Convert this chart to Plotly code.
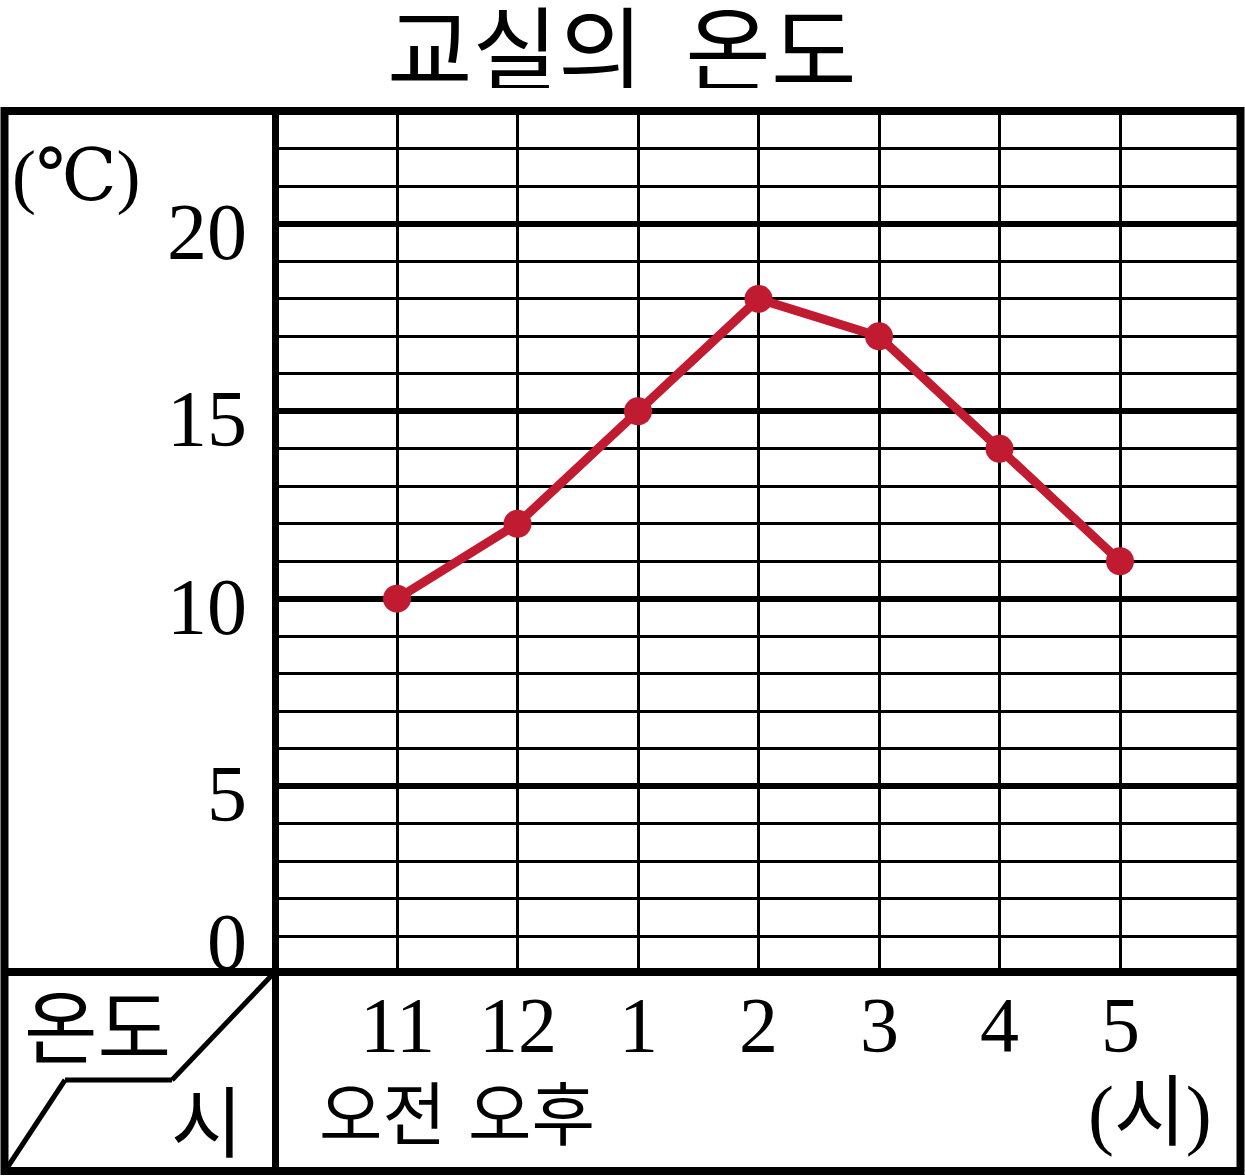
import plotly.graph_objects as go

W, H = 1245, 1176

# ---- data ----
hours = ["11", "12", "1", "2", "3", "4", "5"]
temps = [10, 12, 15, 18, 17, 14, 11]
y_tick_vals = [20, 15, 10, 5, 0]
y_tick_text = ["20", "15", "10", "5", "0"]
ampm_labels = ["오전", "오후"]
title_text = "교실의  온도"

x_idx = list(range(len(hours)))

def px(x):
    return x / W

def py(y):
    return 1 - y / H

SERIF = "Liberation Serif, DejaVu Serif, serif"
KR = "Noto Sans CJK KR"
SERIF_KR = "Liberation Serif, Noto Sans CJK KR"
RED = "#C11B31"

fig = go.Figure()
fig.add_trace(go.Scatter(
    x=x_idx, y=temps, mode="lines+markers",
    line=dict(color=RED, width=9),
    marker=dict(color=RED, size=28),
    hoverinfo="skip", showlegend=False,
))

fig.update_layout(
    width=W, height=H,
    margin=dict(l=0, r=0, t=0, b=0),
    paper_bgcolor="white", plot_bgcolor="white",
    xaxis=dict(
        domain=[px(276.5), px(1240.5)], range=[-1, 7],
        tickmode="array", tickvals=x_idx, showticklabels=False,
        showgrid=True, gridcolor="black", gridwidth=3,
        zeroline=False, showline=False, ticks="", fixedrange=True,
    ),
    yaxis=dict(
        domain=[py(973.5), py(111.5)], range=[0, 23],
        tickmode="linear", tick0=0, dtick=5, showticklabels=False,
        showgrid=True, gridcolor="black", gridwidth=5.5,
        minor=dict(tickmode="linear", tick0=0, dtick=1, showgrid=True,
                   gridcolor="black", gridwidth=2.5, ticks=""),
        zeroline=False, showline=False, ticks="", fixedrange=True,
    ),
)

shapes = []
def pline(x0, y0, x1, y1, w):
    shapes.append(dict(type="line", xref="paper", yref="paper",
                       x0=px(x0), y0=py(y0), x1=px(x1), y1=py(y1),
                       line=dict(color="black", width=w), layer="above"))

# outer frame
shapes.append(dict(type="rect", xref="paper", yref="paper",
                   x0=px(4.5), y0=py(1171), x1=px(1240.5), y1=py(111),
                   line=dict(color="black", width=8), layer="above"))
# column separator and row separator
pline(275.5, 111, 275.5, 1171, 7)
pline(4.5, 972, 1240.5, 972, 8)
# diagonal header in bottom-left cell
pline(273, 974, 172, 1080, 5)
pline(172, 1080, 65, 1080, 5)
pline(65, 1080, 7, 1168, 5)
fig.update_layout(shapes=shapes)

ann = []
# title
ann.append(dict(text=title_text, x=px(621), y=py(44), xref="paper", yref="paper",
                showarrow=False, font=dict(family=KR, size=93, color="black"),
                height=88, valign="middle",
                xanchor="center", yanchor="middle"))
# unit
ann.append(dict(text="(℃)", x=px(10), y=py(176), xref="paper", yref="paper",
                showarrow=False, font=dict(family=SERIF, size=72, color="black"),
                xanchor="left", yanchor="middle"))
# y tick labels
for v, t in zip(y_tick_vals, y_tick_text):
    shift = 32 if v == 0 else -8
    ann.append(dict(text=t, x=px(249), y=v, xref="paper", yref="y",
                    showarrow=False, yshift=shift,
                    font=dict(family=SERIF, size=80, color="black"),
                    xanchor="right", yanchor="middle"))
# x tick labels
for i, h in zip(x_idx, hours):
    ann.append(dict(text=h, x=i, y=py(1024), xref="x", yref="paper",
                    showarrow=False, font=dict(family=SERIF, size=78, color="black"),
                    xanchor="center", yanchor="middle"))
# 오전 / 오후
for i, (lab, dx) in enumerate(zip(ampm_labels, [-15, 14])):
    ann.append(dict(text=lab, x=i, y=py(1110), xref="x", yref="paper",
                    showarrow=False, xshift=dx,
                    font=dict(family=KR, size=69, color="black"),
                    xanchor="center", yanchor="middle"))
# (시) unit
ann.append(dict(text="(시)", x=px(1150), y=py(1113), xref="paper", yref="paper",
                showarrow=False, font=dict(family=SERIF_KR, size=78, color="black"),
                xanchor="center", yanchor="middle"))
# header cell texts
ann.append(dict(text="온도", x=px(97), y=py(1022), xref="paper", yref="paper",
                showarrow=False, font=dict(family=KR, size=80, color="black"),
                xanchor="center", yanchor="middle"))
ann.append(dict(text="시", x=px(207), y=py(1118), xref="paper", yref="paper",
                showarrow=False, font=dict(family=KR, size=78, color="black"),
                xanchor="center", yanchor="middle"))
fig.update_layout(annotations=ann)

fig.write_html("out.html", config={"displayModeBar": False},
               post_script="document.body.style.margin='0px';")
